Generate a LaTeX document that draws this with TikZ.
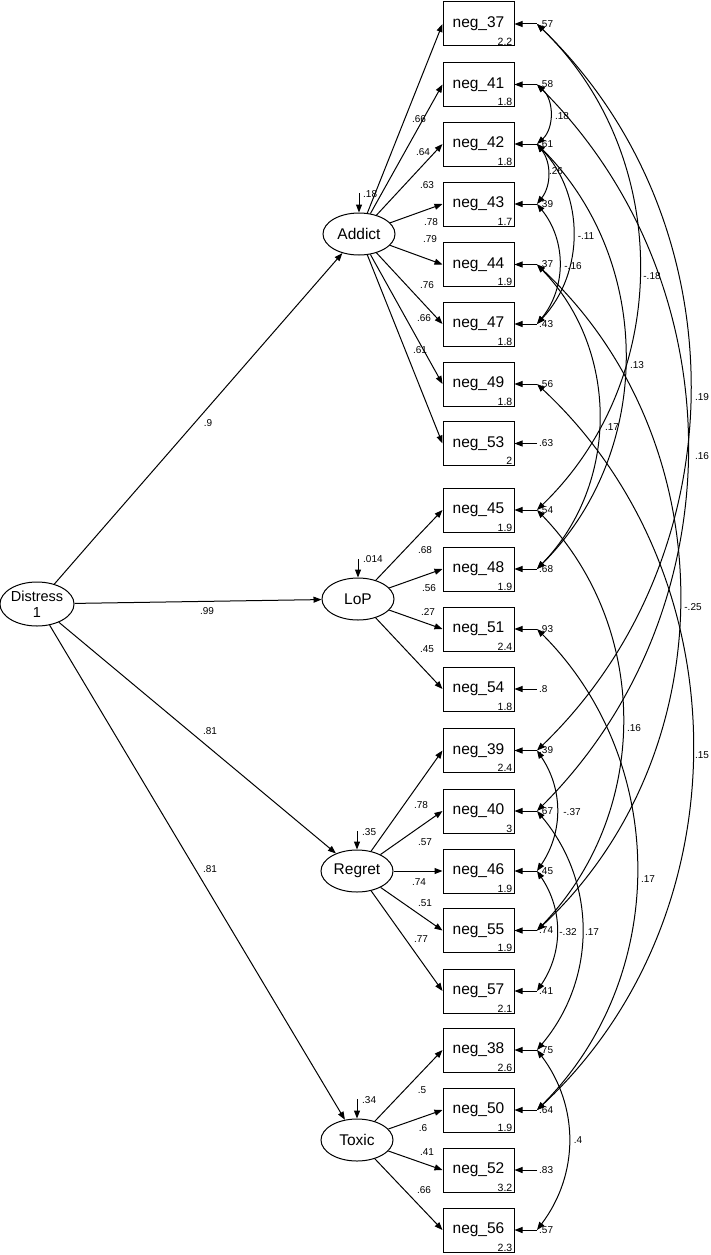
\documentclass[tikz,border=0pt]{standalone}
\usepackage{fontspec}
\setmainfont{Liberation Sans}
\usetikzlibrary{arrows.meta,shapes.geometric}
\newcommand\obsv[4]{%
  \node[obs] (n#1) at (478.5,#2) {neg\_#1};
  \node[mean,anchor=south east] at ([shift={(-2pt,1pt)}]n#1.south east) {#3};
  \coordinate (e#1) at (537,#2);
  \draw[arr] (e#1) -- (n#1.east);
  \node[val,anchor=west] at (539,#2) {#4};
}
\begin{document}
\begin{tikzpicture}[x=1pt,y=-1pt,
  lw/.style={line width=1pt},
  arr/.style={lw,-{Triangle[length=8pt,width=6pt]}},
  darr/.style={lw,{Triangle[length=8pt,width=6pt]}-{Triangle[length=8pt,width=6pt]}},
  obs/.style={draw,lw,rectangle,minimum width=71pt,minimum height=44pt,inner sep=0pt,font=\fontsize{15.5}{17}\selectfont},
  lat/.style={draw,lw,ellipse,minimum width=72pt,minimum height=42pt,inner sep=0pt,font=\fontsize{15.5}{17}\selectfont},
  val/.style={font=\fontsize{10}{11}\selectfont,inner sep=0pt},
  mean/.style={font=\fontsize{10.5}{11}\selectfont,inner sep=0pt},
]
\path[use as bounding box,fill=white] (0,0) rectangle (711,1255);

% observed variables
\obsv{37}{24}{2.2}{.57}
\obsv{41}{84.5}{1.8}{.58}
\obsv{42}{144}{1.8}{.61}
\obsv{43}{204}{1.7}{.39}
\obsv{44}{264.5}{1.9}{.37}
\obsv{47}{324}{1.8}{.43}
\obsv{49}{384}{1.8}{.56}
\obsv{53}{443.5}{2}{.63}
\obsv{45}{510}{1.9}{.54}
\obsv{48}{569}{1.9}{.68}
\obsv{51}{629}{2.4}{.93}
\obsv{54}{689}{1.8}{.8}
\obsv{39}{750.5}{2.4}{.39}
\obsv{40}{811}{3}{.67}
\obsv{46}{871}{1.9}{.45}
\obsv{55}{930.5}{1.9}{.74}
\obsv{57}{991}{2.1}{.41}
\obsv{38}{1050}{2.6}{.75}
\obsv{50}{1110}{1.9}{.64}
\obsv{52}{1170}{3.2}{.83}
\obsv{56}{1230}{2.3}{.57}

% latent variables
\node[lat,font=\fontsize{14.5}{16}\selectfont,align=center,minimum width=71pt,minimum height=44pt] (distress) at (37,604) {Distress\\1};
\node[lat] (addict) at (359,234) {Addict};
\node[lat] (lop) at (358,599) {LoP};
\node[lat] (regret) at (357,871) {Regret};
\node[lat] (toxic) at (357,1140) {Toxic};

% disturbances
\coordinate (za) at (359,193);
\coordinate (zl) at (358,559);
\coordinate (zr) at (357,831);
\coordinate (zt) at (357,1099);
\draw[arr] (za) -- (addict.north);
\draw[arr] (zl) -- (lop.north);
\draw[arr] (zr) -- (regret.north);
\draw[arr] (zt) -- (toxic.north);
\node[val,anchor=west] at (363,194) {.18};
\node[val,anchor=west] at (363,559) {.014};
\node[val,anchor=west] at (362,832) {.35};
\node[val,anchor=west] at (362,1100) {.34};

% structural paths
\draw[arr] (distress) -- (addict);
\draw[arr] (distress) -- (lop);
\draw[arr] (distress) -- (regret);
\draw[arr] (distress) -- (toxic);
\node[val] at (208,423) {.9};
\node[val] at (207,611) {.99};
\node[val] at (210,731) {.81};
\node[val] at (210,869) {.81};

% loadings
\foreach \b in {37,41,42,43,44,47,49,53} \draw[arr] (addict) -- (n\b.west);
\foreach \b in {45,48,51,54} \draw[arr] (lop) -- (n\b.west);
\foreach \b in {39,40,46,55,57} \draw[arr] (regret) -- (n\b.west);
\foreach \b in {38,50,52,56} \draw[arr] (toxic) -- (n\b.west);

\node[val] at (419,119) {.66};
\node[val] at (423,152) {.64};
\node[val] at (427,185) {.63};
\node[val] at (431,222) {.78};
\node[val] at (430,239) {.79};
\node[val] at (427,285) {.76};
\node[val] at (424,318) {.66};
\node[val] at (420,350) {.61};

\node[val] at (425,550) {.68};
\node[val] at (429,588) {.56};
\node[val] at (428,612) {.27};
\node[val] at (427,649) {.45};

\node[val] at (421,805) {.78};
\node[val] at (425,842) {.57};
\node[val] at (419,882) {.74};
\node[val] at (425,903) {.51};
\node[val] at (421,939) {.77};

\node[val] at (422,1090) {.5};
\node[val] at (423,1128) {.6};
\node[val] at (427,1152) {.41};
\node[val] at (424,1190) {.66};

% error covariances
\draw[darr] (e41) to[bend left=48] (e42);
\draw[darr] (e42) to[bend left=38] (e43);
\draw[darr] (e42) to[bend left=43] (e47);
\draw[darr] (e43) to[bend left=39] (e47);
\draw[darr] (e37) to[bend left=46] (e45);
\draw[darr] (e42) to[bend left=45] (e48);
\draw[darr] (e37) to[bend left=46] (e39);
\draw[darr] (e41) to[bend left=45] (e40);
\draw[darr] (e44) to[bend left=47] (e55);
\draw[darr] (e45) to[bend left=44] (e55);
\draw[darr] (e49) to[bend left=47] (e50);
\draw[darr] (e39) to[bend left=34] (e46);
\draw[darr] (e51) to[bend left=45] (e50);
\draw[darr] (e46) to[bend left=34] (e57);
\draw[darr] (e40) to[bend left=40] (e38);
\draw[darr] (e38) to[bend left=37] (e56);
\draw[darr] (e44) to[bend left=44] (e48);

\node[val] at (562,116) {.18};
\node[val] at (556,171) {.26};
\node[val] at (586,236) {-.11};
\node[val] at (573,266) {-.16};
\node[val] at (652,276) {-.18};
\node[val] at (637,365) {.13};
\node[val] at (702,397) {.19};
\node[val] at (612,427) {.17};
\node[val] at (702,456) {.16};
\node[val] at (693,607) {-.25};
\node[val] at (634,728) {.16};
\node[val] at (702,755) {.15};
\node[val] at (572,812) {-.37};
\node[val] at (648,879) {.17};
\node[val] at (568,932) {-.32};
\node[val] at (592,932) {.17};
\node[val] at (578,1140) {.4};
\end{tikzpicture}
\end{document}
